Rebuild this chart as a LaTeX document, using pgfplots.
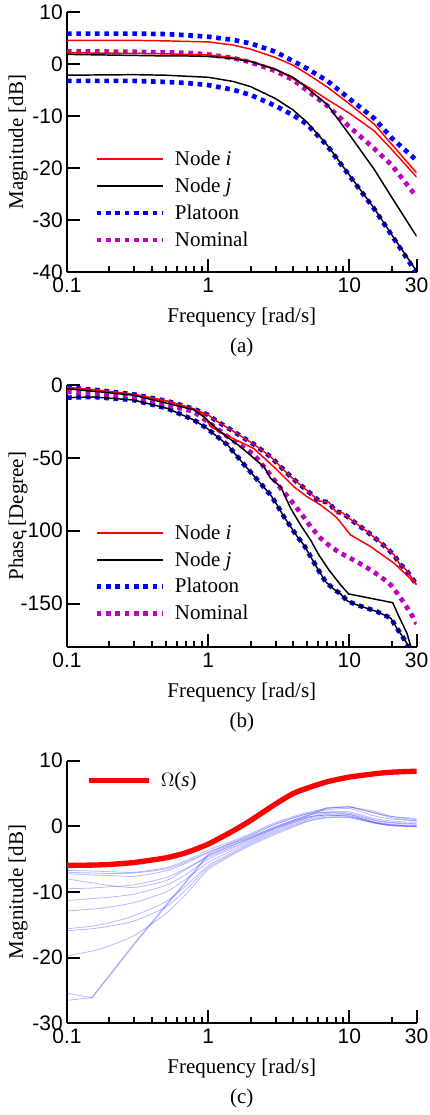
\documentclass[border=0pt]{standalone}
\usepackage{pgfplots}
\pgfplotsset{compat=1.18}
\usepackage{fontspec}
\setmainfont{Liberation Serif}
\setsansfont{Liberation Sans}
\newcommand\myfs{\fontsize{15.75}{18.9}\selectfont}
\definecolor{pblue}{rgb}{0,0,1}
\definecolor{pmag}{rgb}{0.75,0,0.75}
\tikzset{
  nodei/.style={red, line width=1.1pt},
  nodej/.style={black, line width=1.1pt},
  plat/.style={pblue, line width=3.5pt, dash pattern=on 3.5pt off 3.5pt},
  nomi/.style={pmag, line width=3.5pt, dash pattern=on 3.5pt off 3.5pt},
  thinb/.style={pblue, line width=0.6pt, opacity=0.28},
}
\pgfplotsset{legend image code/.code={\draw[#1] (0pt,0pt) -- (50pt,0pt);}}
\begin{document}
\begin{tikzpicture}
\useasboundingbox (0,0) rectangle (321.75pt,-836.25pt);
% ---------------- (a) ----------------
\begin{axis}[name=axa, xmode=log, scale only axis, width=262.25pt, height=195pt,
    at={(50.25pt,-9.2pt)}, anchor=north west,
    xmin=0.1, xmax=30, ymin=-40, ymax=10,
    axis lines*=left, axis line style={line width=1.5pt},
    tick align=inside, major tick length=10pt, minor tick length=4.5pt,
    tick style={black, line width=1.5pt},
    xtick={0.1,1,10,30}, xticklabels={0.1,1,10,30},
    minor xtick={0.2,0.3,0.4,0.5,0.6,0.7,0.8,0.9,2,3,4,5,6,7,8,9,20},
    ytick={-40,-30,-20,-10,0,10}, yticklabels={-40,-30,-20,-10,0,10},
    tick label style={font=\sffamily\myfs},
    xticklabel style={inner sep=0pt, yshift=-4pt},
    yticklabel style={inner sep=0pt, xshift=-3pt},
    xlabel={Frequency [rad/s]}, ylabel={Magnitude [dB]},
    xlabel style={font=\myfs, at={(axis description cs:0.5,0)}, anchor=base, yshift=-37.5pt},
    ylabel style={font=\myfs, at={(axis description cs:0,0.5)}, anchor=center, yshift=36.75pt},
    legend style={draw=none, fill=none, font=\myfs, inner sep=0pt, row sep=3.75pt, column sep=5pt,
      at={(axis description cs:0.077,0.478)}, anchor=north west},
    legend cell align=left]
\addlegendimage{nodei}\addlegendentry{Node \textit{i}}
\addlegendimage{nodej}\addlegendentry{Node \textit{j}}
\addlegendimage{plat}\addlegendentry{Platoon}
\addlegendimage{nomi}\addlegendentry{Nominal}
\addplot[plat, forget plot] coordinates {(0.1,5.9) (0.3,5.9) (0.5,5.8) (0.7,5.6) (1,5.3) (1.5,4.7) (2,4.0) (3,2.4) (4,0.6) (5,-0.8) (7,-3.2) (10,-6.6) (15,-10.4) (20,-14.2) (30,-18.5)};
\addplot[plat, forget plot] coordinates {(0.1,-3.2) (0.3,-3.2) (0.5,-3.4) (0.7,-3.6) (1,-4.0) (1.5,-4.9) (2,-5.9) (3,-8.0) (4,-9.8) (5,-11.5) (7,-15.7) (10,-21.4) (15,-27.8) (20,-32.9) (30,-40.2)};
\addplot[nomi, forget plot] coordinates {(0.1,2.5) (0.3,2.4) (0.5,2.3) (0.7,2.2) (1,1.9) (1.5,1.2) (2,0.4) (3,-1.3) (4,-3.0) (5,-5.0) (7,-8.0) (10,-12.0) (15,-16.2) (20,-19.4) (30,-25.5)};
\addplot[nodei, forget plot] coordinates {(0.1,4.6) (0.3,4.6) (0.5,4.5) (0.7,4.4) (1,4.3) (1.5,3.7) (2,2.9) (3,1.3) (4,-0.2) (5,-1.8) (7,-4.4) (10,-7.6) (15,-11.5) (20,-15.4) (30,-20.9)};
\addplot[nodei, forget plot] coordinates {(0.1,2.2) (0.3,2.1) (0.5,2.0) (0.7,1.9) (1,1.8) (1.5,1.3) (2,0.6) (3,-0.9) (4,-2.8) (5,-4.2) (7,-6.8) (10,-9.4) (15,-12.8) (20,-16.4) (30,-21.7)};
\addplot[nodej, forget plot] coordinates {(0.1,1.9) (0.3,1.7) (0.5,1.6) (0.7,1.6) (1,1.5) (1.5,1.1) (2,0.5) (3,-1.0) (4,-2.5) (5,-4.5) (7,-7.8) (10,-13.5) (15,-20.2) (20,-25.6) (30,-33.1)};
\addplot[nodej, forget plot] coordinates {(0.1,-2.1) (0.3,-2.0) (0.5,-2.1) (0.7,-2.3) (1,-2.5) (1.5,-3.3) (2,-4.3) (3,-6.6) (4,-8.8) (5,-11.1) (7,-15.6) (10,-21.3) (15,-27.7) (20,-32.8) (30,-39.8)};
\end{axis}
\node[font=\myfs, anchor=base] at ([yshift=-60pt]axa.south) {(a)};
% ---------------- (b) ----------------
\begin{axis}[name=axb, xmode=log, scale only axis, width=262.25pt, height=196.7pt,
    at={(50.25pt,-288.75pt)}, anchor=north west,
    xmin=0.1, xmax=30, ymin=-180, ymax=0,
    axis lines*=left, axis line style={line width=1.5pt},
    tick align=inside, major tick length=10pt, minor tick length=4.5pt,
    tick style={black, line width=1.5pt},
    xtick={0.1,1,10,30}, xticklabels={0.1,1,10,30},
    minor xtick={0.2,0.3,0.4,0.5,0.6,0.7,0.8,0.9,2,3,4,5,6,7,8,9,20},
    ytick={-150,-100,-50,0}, yticklabels={-150,-100,-50,0},
    tick label style={font=\sffamily\myfs},
    xticklabel style={inner sep=0pt, yshift=-4pt},
    yticklabel style={inner sep=0pt, xshift=-3pt},
    xlabel={Frequency [rad/s]}, ylabel={Phase [Degree]},
    xlabel style={font=\myfs, at={(axis description cs:0.5,0)}, anchor=base, yshift=-37.5pt},
    ylabel style={font=\myfs, at={(axis description cs:0,0.5)}, anchor=center, yshift=36.75pt},
    legend style={draw=none, fill=none, font=\myfs, inner sep=0pt, row sep=3.75pt, column sep=5pt,
      at={(axis description cs:0.077,0.479)}, anchor=north west},
    legend cell align=left]
\addlegendimage{nodei}\addlegendentry{Node \textit{i}}
\addlegendimage{nodej}\addlegendentry{Node \textit{j}}
\addlegendimage{plat}\addlegendentry{Platoon}
\addlegendimage{nomi}\addlegendentry{Nominal}
\addplot[plat, forget plot] coordinates {(0.1,-1.8) (0.154,-3.2) (0.296,-6.4) (0.511,-11.0) (0.792,-16.4) (1.0,-20.5) (1.146,-24.7) (1.52,-32.0) (2.10,-40.6) (2.77,-49.2) (3.84,-62.9) (5.47,-75.5) (6.09,-79.6) (7.18,-80.5) (8.0,-87.0) (8.93,-87.6) (10.2,-92.2) (13.1,-100.0) (16.7,-108.2) (20.8,-116.7) (22.5,-122.4) (25.1,-126.5) (30,-137)};
\addplot[plat, forget plot] coordinates {(0.1,-8.7) (0.154,-8.2) (0.296,-10.3) (0.511,-16.0) (0.792,-24.0) (0.98,-29.7) (1.37,-41.1) (1.89,-57.1) (2.77,-75.5) (3.08,-82.4) (3.44,-90.4) (3.84,-97.2) (4.28,-104.1) (4.77,-109.8) (5.32,-117.8) (5.93,-125.8) (6.79,-135.0) (7.78,-140.2) (8.69,-143.4) (9.68,-148.2) (11.4,-151.0) (13.4,-153.3) (15.8,-155.6) (17.7,-157.9) (19.7,-160.1) (21.4,-165.9) (23.8,-172.7) (25.6,-177.3) (30,-195)};
\addplot[nomi, forget plot] coordinates {(0.1,-4.6) (0.296,-8.0) (0.792,-18.3) (1.10,-28.5) (1.52,-38.5) (2.10,-47.5) (2.77,-61.8) (3.26,-70.9) (3.84,-78.9) (4.64,-89.2) (5.32,-97.2) (6.27,-105.2) (7.38,-111.0) (8.69,-115.5) (10.5,-119.6) (12.4,-123.5) (14.2,-127.0) (16.7,-131.6) (19.7,-137.3) (21.9,-143.0) (24.5,-149.8) (27.3,-156.7) (30,-164)};
\addplot[nodei, forget plot] coordinates {(0.1,-1.8) (0.154,-3.2) (0.296,-6.4) (0.511,-11.0) (0.792,-16.4) (1.0,-20.5) (1.146,-24.7) (1.52,-32.0) (2.10,-40.6) (2.77,-49.2) (3.84,-62.9) (5.47,-75.5) (6.09,-79.6) (7.18,-80.5) (8.0,-87.0) (8.93,-87.6) (10.2,-92.2) (13.1,-100.0) (16.7,-108.2) (20.8,-116.7) (22.5,-122.4) (25.1,-126.5) (30,-137)};
\addplot[nodei, forget plot] coordinates {(0.1,-1.8) (0.154,-3.2) (0.296,-6.4) (0.511,-11.0) (0.792,-16.4) (0.93,-20.4) (1.04,-28.6) (1.52,-37.0) (2.10,-43.5) (3.08,-58.3) (4.05,-69.8) (5.03,-76.7) (6.27,-82.4) (7.59,-88.5) (8.23,-91.5) (10.2,-102.9) (14.2,-111.0) (20.8,-122.4) (30,-137)};
\addplot[nodej, forget plot] coordinates {(0.1,-2.5) (0.296,-7.0) (0.792,-17.0) (0.93,-21.9) (1.22,-32.2) (1.70,-42.5) (2.49,-56.2) (2.77,-64.0) (3.26,-69.8) (3.84,-84.6) (4.52,-96.1) (5.32,-106.4) (6.09,-116.7) (7.18,-127.0) (8.69,-137.3) (9.9,-143.4) (14.2,-146.4) (20.3,-149.4) (22.5,-159.0) (25.6,-170.4) (27.3,-179.6) (30,-192)};
\addplot[nodej, forget plot] coordinates {(0.1,-8.7) (0.154,-8.2) (0.296,-10.3) (0.511,-16.0) (0.792,-24.0) (0.98,-29.7) (1.37,-41.1) (1.89,-57.1) (2.77,-75.5) (3.08,-82.4) (3.44,-90.4) (3.84,-97.2) (4.28,-104.1) (4.77,-109.8) (5.32,-117.8) (5.93,-125.8) (6.79,-135.0) (7.78,-140.2) (8.69,-143.4) (9.68,-148.2) (11.4,-151.0) (13.4,-153.3) (15.8,-155.6) (17.7,-157.9) (19.7,-160.1) (21.4,-165.9) (23.8,-172.7) (25.6,-177.3) (30,-195)};
\end{axis}
\node[font=\myfs, anchor=base] at ([yshift=-60pt]axb.south) {(b)};
% ---------------- (c) ----------------
\begin{axis}[name=axc, xmode=log, scale only axis, width=262.25pt, height=197pt,
    at={(50.25pt,-570.5pt)}, anchor=north west,
    xmin=0.1, xmax=30, ymin=-30, ymax=10,
    axis lines*=left, axis line style={line width=1.5pt},
    tick align=inside, major tick length=10pt, minor tick length=4.5pt,
    tick style={black, line width=1.5pt},
    xtick={0.1,1,10,30}, xticklabels={0.1,1,10,30},
    minor xtick={0.2,0.3,0.4,0.5,0.6,0.7,0.8,0.9,2,3,4,5,6,7,8,9,20},
    ytick={-30,-20,-10,0,10}, yticklabels={-30,-20,-10,0,10},
    tick label style={font=\sffamily\myfs},
    xticklabel style={inner sep=0pt, yshift=-4pt},
    yticklabel style={inner sep=0pt, xshift=-3pt},
    xlabel={Frequency [rad/s]}, ylabel={Magnitude [dB]},
    xlabel style={font=\myfs, at={(axis description cs:0.5,0)}, anchor=base, yshift=-37.5pt},
    ylabel style={font=\myfs, at={(axis description cs:0,0.5)}, anchor=center, yshift=36.75pt},
    legend image post style={xscale=0.9},
    legend style={draw=none, fill=none, font=\myfs, inner sep=0pt, column sep=5pt,
      at={(axis description cs:0.0543,0.968)}, anchor=north west},
    legend cell align=left]
\addplot[thinb, smooth, tension=0.4, forget plot] coordinates {(0.1,-6.7) (0.15,-6.8) (0.2,-6.9) (0.3,-7.0) (0.5,-6.3) (0.7,-5.2) (1,-3.6) (1.5,-2.2) (2,-1.1) (3,0.6) (5,2.1) (7,2.7) (10,2.9) (15,2.0) (20,1.5) (30,1.2)};
\addplot[thinb, smooth, tension=0.4, forget plot] coordinates {(0.1,-7.2) (0.15,-7.4) (0.2,-7.5) (0.3,-7.6) (0.5,-6.8) (0.7,-5.6) (1,-4.0) (1.5,-2.5) (2,-1.4) (3,0.3) (5,1.9) (7,2.5) (10,2.7) (15,1.6) (20,1.1) (30,0.9)};
\addplot[thinb, smooth, tension=0.4, forget plot] coordinates {(0.1,-8.0) (0.15,-8.6) (0.2,-9.0) (0.3,-9.3) (0.5,-8.3) (0.7,-6.5) (1,-4.5) (1.5,-2.9) (2,-1.7) (3,0.0) (5,1.6) (7,2.2) (10,2.2) (15,1.2) (20,0.8) (30,0.6)};
\addplot[thinb, smooth, tension=0.4, forget plot] coordinates {(0.1,-11.3) (0.15,-11.0) (0.2,-10.8) (0.3,-10.3) (0.5,-9.0) (0.7,-7.3) (1,-5.0) (1.5,-3.3) (2,-2.1) (3,-0.4) (5,1.3) (7,2.0) (10,2.0) (15,1.0) (20,0.6) (30,0.4)};
\addplot[thinb, smooth, tension=0.4, forget plot] coordinates {(0.1,-12.9) (0.15,-12.6) (0.2,-12.3) (0.3,-11.6) (0.5,-10.0) (0.7,-8.0) (1,-5.5) (1.5,-3.6) (2,-2.3) (3,-0.6) (5,1.2) (7,1.8) (10,1.8) (15,0.9) (20,0.5) (30,0.3)};
\addplot[thinb, smooth, tension=0.4, forget plot] coordinates {(0.1,-15.6) (0.15,-15.2) (0.2,-14.7) (0.3,-13.6) (0.5,-11.5) (0.7,-9.0) (1,-6.0) (1.5,-3.9) (2,-2.5) (3,-0.8) (5,1.0) (7,1.6) (10,1.6) (15,0.7) (20,0.3) (30,0.1)};
\addplot[thinb, smooth, tension=0.4, forget plot] coordinates {(0.1,-15.9) (0.15,-15.6) (0.2,-15.2) (0.3,-14.4) (0.5,-12.3) (0.7,-9.6) (1,-6.3) (1.5,-4.1) (2,-2.7) (3,-1.0) (5,0.8) (7,1.4) (10,1.4) (15,0.6) (20,0.2) (30,0.0)};
\addplot[thinb, smooth, tension=0.4, forget plot] coordinates {(0.1,-19.7) (0.15,-19.0) (0.2,-18.2) (0.3,-16.6) (0.5,-13.3) (0.7,-10.3) (1,-6.6) (1.5,-4.3) (2,-2.9) (3,-1.2) (5,0.7) (7,1.3) (10,1.3) (15,0.5) (20,0.1) (30,-0.1)};
\addplot[thinb, forget plot] coordinates {(0.1,-25.4) (0.15,-26.1) (0.2,-22.8) (0.3,-18.0) (0.5,-12.2) (0.7,-8.5) (1,-4.4) (1.5,-2.8) (2,-1.8) (3,-0.3) (5,1.5) (7,2.8) (10,3.0) (15,2.3) (20,1.5) (30,1.0)};
\addplot[thinb, forget plot] coordinates {(0.1,-26.5) (0.15,-26.1) (0.2,-22.6) (0.3,-17.8) (0.5,-12.0) (0.7,-8.3) (1,-4.2) (1.5,-2.6) (2,-1.6) (3,-0.1) (5,1.7) (7,2.9) (10,3.0) (15,2.1) (20,1.3) (30,0.8)};
\addplot[thinb, smooth, tension=0.4, forget plot] coordinates {(0.1,-7.0) (0.15,-7.1) (0.2,-7.2) (0.3,-7.1) (0.5,-6.5) (0.7,-5.4) (1,-3.9) (1.5,-2.4) (2,-1.3) (3,0.4) (5,1.9) (7,2.1) (10,1.8) (15,0.6) (20,0.2) (30,0.0)};
\addplot[thinb, smooth, tension=0.4, forget plot] coordinates {(0.1,-9.5) (0.15,-9.4) (0.2,-9.2) (0.3,-8.9) (0.5,-7.8) (0.7,-6.4) (1,-4.7) (1.5,-3.1) (2,-1.9) (3,-0.2) (5,1.4) (7,1.7) (10,1.5) (15,0.5) (20,0.1) (30,0.0)};
\addplot[red, line width=4pt, smooth, tension=0.4] coordinates {(0.1,-5.95) (0.15,-5.9) (0.2,-5.8) (0.3,-5.5) (0.5,-4.8) (0.7,-4.0) (1,-2.7) (1.5,-0.7) (2,0.9) (3,3.4) (4,5.0) (5,5.8) (7,6.8) (10,7.5) (15,8.0) (20,8.25) (30,8.4)};
\addlegendentry{$\Omega$(\textit{s})}
\end{axis}
\node[font=\myfs, anchor=base] at ([yshift=-60pt]axc.south) {(c)};
\end{tikzpicture}
\end{document}
